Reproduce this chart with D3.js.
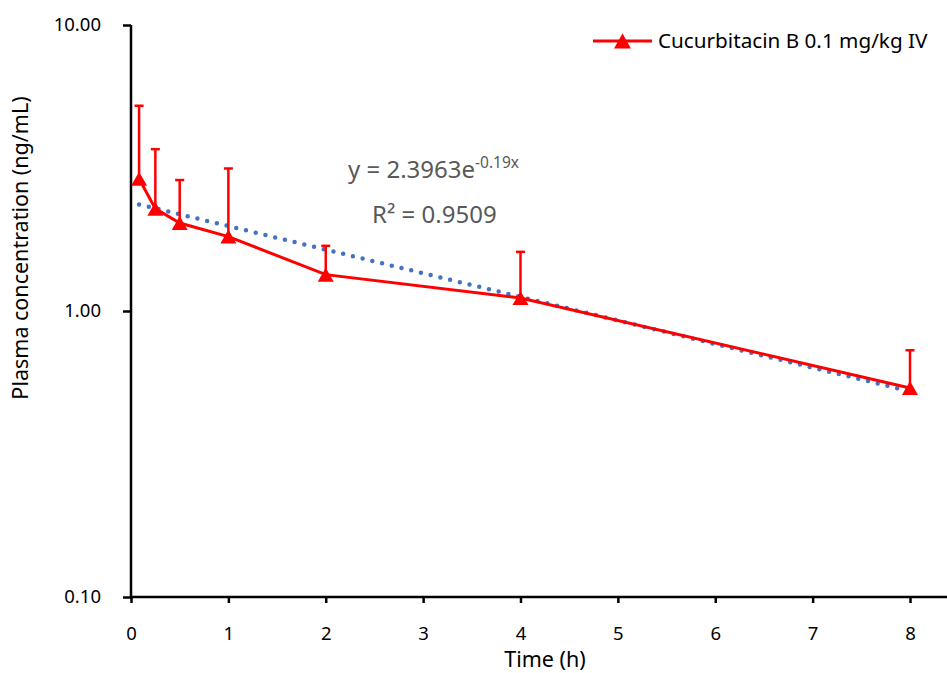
<!DOCTYPE html>
<html>
<head>
<meta charset="utf-8">
<script src="https://cdn.jsdelivr.net/npm/d3@7"></script>
<style>
  html, body { margin: 0; padding: 0; background: #fff; }
  svg { display: block; font-family: "Noto Sans", "DejaVu Sans", sans-serif; }
</style>
</head>
<body>
<svg id="chart" width="947" height="673"></svg>
<script>
// Sampling times (h)
const times = [0.083, 0.25, 0.5, 1, 2, 4, 8];
// Mean plasma concentration (ng/mL)
const meanConc = [2.90, 2.28, 2.03, 1.82, 1.34, 1.11, 0.538];
// Upper SD bound of each mean (ng/mL)
const upperConc = [5.22, 3.68, 2.87, 3.15, 1.69, 1.61, 0.729];
// Exponential trendline y = a e^(b x)
const fitA = 2.3963;
const fitB = -0.19;
const fitR2 = 0.9509;
// Axis ticks
const xTicks = [0, 1, 2, 3, 4, 5, 6, 7, 8];
const yTicks = [0.1, 1, 10];
const seriesName = "Cucurbitacin B 0.1 mg/kg IV";

const FONT = "Noto Sans, DejaVu Sans, sans-serif";
const svg = d3.select("#chart");
const x = d3.scaleLinear().domain([0, 8]).range([131, 910]);
const y = d3.scaleLog().domain([0.1, 10]).range([597, 25]);

// Axes
const xAxis = d3.axisBottom(x).tickValues(xTicks).tickFormat(d3.format("d"))
  .tickSize(6).tickSizeOuter(0).tickPadding(24);
const gx = svg.append("g").attr("transform", `translate(0,${y(0.1)})`).call(xAxis);
gx.select(".domain").remove();
gx.append("line").attr("x1", x(0)).attr("x2", 947).attr("y1", 0).attr("y2", 0)
  .attr("stroke", "#000").attr("stroke-width", 2.5);
gx.selectAll(".tick line").attr("stroke-width", 2.5);
gx.selectAll(".tick text").attr("font-size", 18.5).attr("fill", "#000").attr("font-family", FONT);

const yAxis = d3.axisLeft(y).tickValues(yTicks).tickFormat(d3.format(".2f"))
  .tickSize(8).tickSizeOuter(0).tickPadding(22);
const gy = svg.append("g").attr("transform", `translate(${x(0)},0)`).call(yAxis);
gy.select(".domain").remove();
gy.append("line").attr("x1", 0).attr("x2", 0).attr("y1", y(10)).attr("y2", y(0.1))
  .attr("stroke", "#000").attr("stroke-width", 2.5);
gy.selectAll(".tick line").attr("stroke-width", 2.5);
gy.selectAll(".tick text").attr("font-size", 18.5).attr("fill", "#000").attr("font-family", FONT);

// Axis titles
svg.append("text").attr("x", 545).attr("y", 667).attr("text-anchor", "middle")
  .attr("font-size", 21.5).attr("fill", "#000").text("Time (h)");
svg.append("text").attr("transform", "translate(28,248) rotate(-90)")
  .attr("text-anchor", "middle").attr("font-size", 21.5).attr("fill", "#000")
  .text("Plasma concentration (ng/mL)");

// Trendline (dotted)
const fitXs = d3.range(0, 201).map(i => times[0] + (8 - times[0]) * i / 200);
svg.append("path")
  .datum(fitXs)
  .attr("d", d3.line().x(d => x(d)).y(d => y(fitA * Math.exp(fitB * d))))
  .attr("fill", "none").attr("stroke", "#4472C4").attr("stroke-width", 4.5)
  .attr("stroke-linecap", "round").attr("stroke-dasharray", "0 10");

const pts = times.map((t, i) => ({ t, m: meanConc[i], u: upperConc[i] }));

// Error bars (upper)
const eb = svg.append("g").attr("stroke", "#FF0000").attr("stroke-width", 2.5);
eb.selectAll("line.v").data(pts).join("line").attr("class", "v")
  .attr("x1", d => x(d.t)).attr("x2", d => x(d.t))
  .attr("y1", d => y(d.m)).attr("y2", d => y(d.u));
eb.selectAll("line.c").data(pts).join("line").attr("class", "c")
  .attr("x1", d => x(d.t) - 4.5).attr("x2", d => x(d.t) + 4.5)
  .attr("y1", d => y(d.u)).attr("y2", d => y(d.u));

// Mean line
svg.append("path").datum(pts)
  .attr("d", d3.line().x(d => x(d.t)).y(d => y(d.m)))
  .attr("fill", "none").attr("stroke", "#FF0000").attr("stroke-width", 3);

// Triangle markers
const tri = (cx, cy, w, h) => `M${cx},${cy - h / 2}L${cx + w / 2},${cy + h / 2}L${cx - w / 2},${cy + h / 2}Z`;
svg.selectAll("path.mk").data(pts).join("path").attr("class", "mk")
  .attr("d", d => tri(x(d.t), y(d.m), 16, 14)).attr("fill", "#FF0000");

// Trendline equation
const eq = svg.append("text").attr("x", 348).attr("y", 178).attr("font-size", 24).attr("fill", "#595959");
eq.append("tspan").text(`y = ${fitA}e`);
eq.append("tspan").attr("dy", -10).attr("font-size", 15.5).text(`${fitB}x`);
svg.append("text").attr("x", 372).attr("y", 223).attr("font-size", 24).attr("fill", "#595959")
  .text(`R² = ${fitR2}`);

// Legend
const lg = svg.append("g");
lg.append("line").attr("x1", 593).attr("x2", 652).attr("y1", 41).attr("y2", 41)
  .attr("stroke", "#FF0000").attr("stroke-width", 3);
lg.append("path").attr("d", tri(622.5, 41, 17, 15)).attr("fill", "#FF0000");
lg.append("text").attr("x", 658).attr("y", 48).attr("font-size", 20.7).attr("fill", "#000")
  .text(seriesName);
</script>
</body>
</html>
